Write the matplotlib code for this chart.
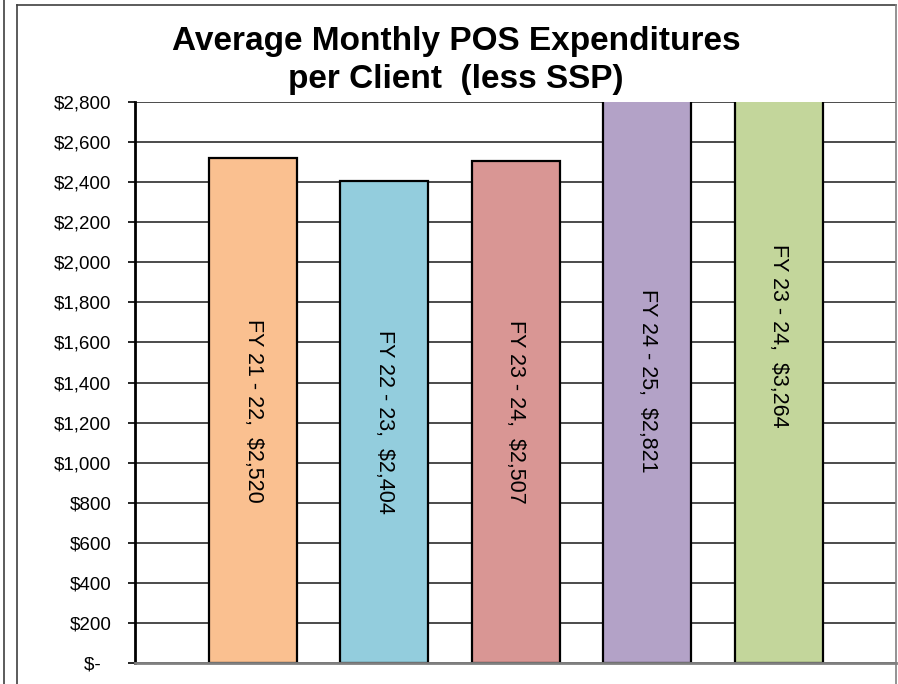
import matplotlib
matplotlib.use("Agg")
import matplotlib.pyplot as plt
from matplotlib.lines import Line2D
from matplotlib.ticker import FuncFormatter

plt.rcParams['font.family'] = ['Liberation Sans', 'DejaVu Sans']

title_lines = ["Average Monthly POS Expenditures", "per Client  (less SSP)"]
categories = ["FY 21 - 22", "FY 22 - 23", "FY 23 - 24", "FY 24 - 25", "FY 23 - 24"]
values = [2520, 2404, 2507, 2821, 3264]
colors = ["#FAC090", "#93CDDD", "#D99694", "#B3A2C7", "#C3D69B"]
yticks = list(range(0, 2801, 200))

W, H = 898, 684
fig = plt.figure(figsize=(W / 100, H / 100), dpi=100)
ax = fig.add_axes([135 / W, 1 - 663 / H, (896 - 135) / W, (663 - 102) / H])

x = list(range(len(values)))
ax.bar(x, values, width=0.67, color=colors, edgecolor='black', linewidth=1.6, zorder=2)

for xi, cat, v in zip(x, categories, values):
    ax.text(xi, v / 2, f"{cat},  ${v:,}", rotation=270, ha='center', va='center',
            fontsize=15.5, color='black', zorder=3, rotation_mode='anchor')

ax.set_ylim(0, 2800)
ax.set_xlim(-0.898, 4.893)
ax.set_yticks(yticks)
ax.yaxis.set_major_formatter(FuncFormatter(lambda v, p: "$-  " if v == 0 else f"${int(v):,}"))
ax.tick_params(axis='y', labelsize=13.5, length=5, width=1.2, pad=12, color='black')
ax.set_xticks([])
ax.grid(axis='y', color='#1a1a1a', linewidth=1.1)
ax.set_axisbelow(True)
for s in ['top', 'right']:
    ax.spines[s].set_visible(False)
ax.spines['left'].set_color('black')
ax.spines['left'].set_linewidth(2.0)
ax.spines['bottom'].set_color('#808080')
ax.spines['bottom'].set_linewidth(2.0)

# title
cx = 456 / W
fig.text(cx, 1 - 50 / H, title_lines[0], ha='center', va='baseline', fontsize=24, fontweight='bold')
fig.text(cx, 1 - 88 / H, title_lines[1], ha='center', va='baseline', fontsize=24, fontweight='bold')

# frames
def fline(x0, y0, x1, y1, c='#404040', lw=1.2):
    fig.add_artist(Line2D([x0 / W, x1 / W], [1 - y0 / H, 1 - y1 / H], color=c, linewidth=lw,
                          transform=fig.transFigure))

fline(3.5, 0, 3.5, H)
fline(16.5, 5, 16.5, H)
fline(16.5, 5, 896, 5)
fline(896, 5, 896, H, c='#808080')

fig.savefig("out.png", dpi=100)
